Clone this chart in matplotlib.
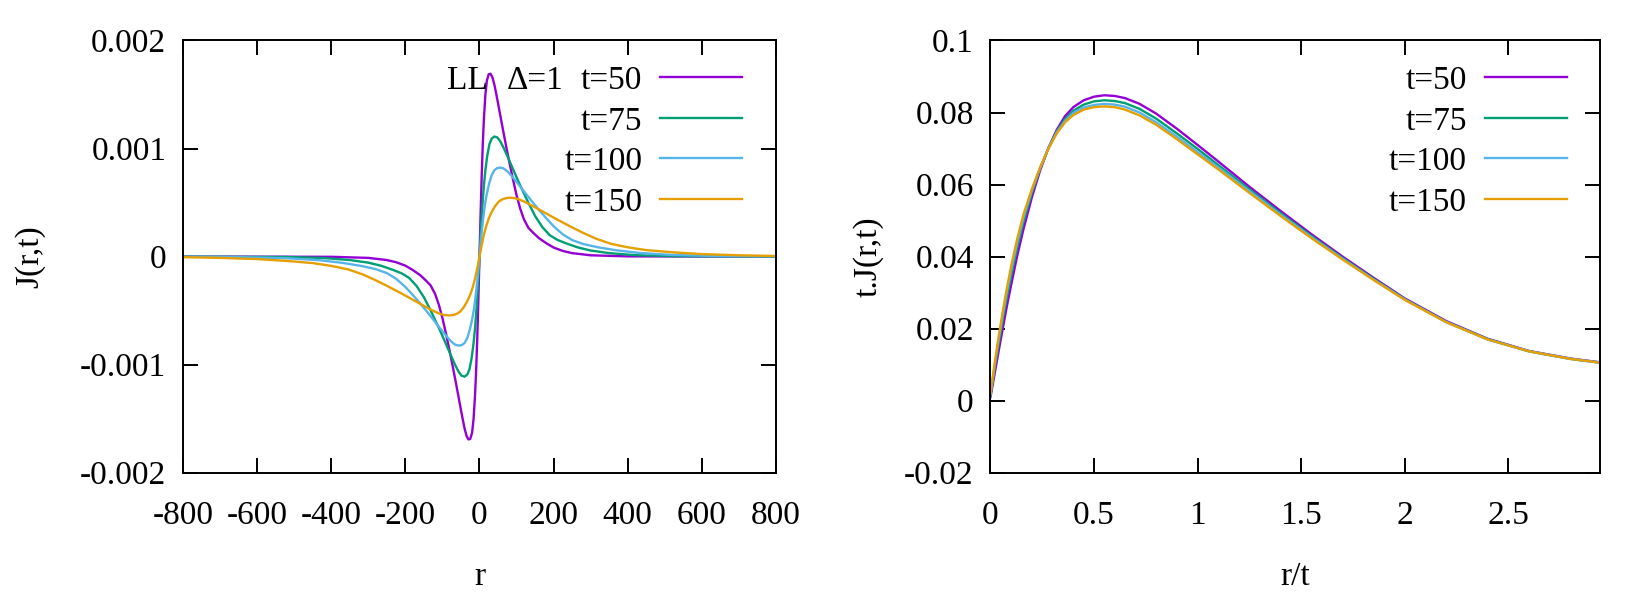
import numpy as np
import matplotlib
matplotlib.use("Agg")
from matplotlib import pyplot as plt

plt.rcParams['font.family'] = ['Liberation Serif', 'DejaVu Serif']
plt.rcParams['axes.unicode_minus'] = False
plt.rcParams['font.size'] = 24

# colours used by gnuplot for the four times
colors = ['#9400D3', '#009E73', '#56B4E9', '#E69F00']
labels = ['t=50', 't=75', 't=100', 't=150']

# left panel: J(r,t) for r >= 0 (the profile is odd in r)
r_t50 = [0, 3, 6, 9, 12, 16, 20, 25, 30, 35, 40, 45, 50, 57, 64, 72, 80, 90,
         100, 110, 120, 132, 145, 160, 180, 200, 225, 250, 300, 400, 800]
J_t50 = [0, 0.00039, 0.000756, 0.00105, 0.00128, 0.001504, 0.00163, 0.001688,
         0.001692, 0.001658, 0.001594, 0.00151, 0.00142, 0.00129, 0.001162,
         0.00102, 0.000882, 0.00072, 0.000568, 0.000442, 0.000344, 0.000266,
         0.00022, 0.000172, 0.000124, 0.000084, 0.000052, 0.000032, 0.000012,
         0.000002, 0]
r_t75 = [0, 4, 8, 12, 16, 21, 27, 33, 40, 48, 56, 65, 75, 85, 95, 105, 118,
         132, 150, 170, 190, 210, 235, 265, 300, 350, 420, 520, 800]
J_t75 = [0, 0.00026, 0.00048, 0.000664, 0.000801, 0.000935, 0.001043, 0.001092,
         0.001111, 0.001103, 0.001068, 0.001008, 0.000932, 0.000853, 0.000773,
         0.000695, 0.000599, 0.000497, 0.000376, 0.000271, 0.000197, 0.000155,
         0.000121, 0.0000853, 0.000056, 0.000032, 0.0000133, 0.000004, 0]
r_t100 = [0, 5, 10, 15, 20, 26, 33, 40, 48, 56, 65, 75, 85, 95, 110, 125, 140,
          160, 180, 200, 225, 250, 280, 320, 370, 430, 520, 650, 800]
J_t100 = [0, 0.000195, 0.000355, 0.00049, 0.000584, 0.000675, 0.000754, 0.000799,
          0.000819, 0.000824, 0.000816, 0.00079, 0.000753, 0.000712, 0.000648,
          0.000582, 0.000517, 0.000434, 0.000355, 0.000281, 0.000205, 0.000153,
          0.000116, 0.000086, 0.000058, 0.000034, 0.000015, 0.000005, 0.0000015]
r_t150 = [0, 6, 12, 18, 25, 33, 42, 52, 62, 72, 82, 95, 110, 125, 142, 160, 180,
          200, 225, 250, 280, 315, 355, 400, 450, 520, 600, 700, 800]
J_t150 = [0, 0.00011, 0.000203, 0.000281, 0.000353, 0.000413, 0.000467, 0.000509,
          0.000531, 0.000541, 0.000545, 0.000541, 0.000525, 0.000502, 0.000471,
          0.000437, 0.000399, 0.000361, 0.000315, 0.00027, 0.000219, 0.000165,
          0.000118, 0.000086, 0.00006, 0.00004, 0.000023, 0.000012, 0.0000053]

# right panel: t.J(r,t) against r/t
x_scaled = [0, 0.02, 0.04, 0.06, 0.08, 0.1, 0.13, 0.16, 0.2, 0.24, 0.28, 0.32,
            0.36, 0.4, 0.45, 0.5, 0.55, 0.6, 0.65, 0.72, 0.8, 0.9, 1.0, 1.1, 1.25,
            1.4, 1.55, 1.7, 1.85, 2.0, 2.2, 2.4, 2.6, 2.8, 2.95]
tJ_t50 = [0.001, 0.0075, 0.014, 0.0203, 0.0265, 0.0322, 0.0405, 0.0478, 0.0565,
          0.064, 0.0702, 0.0752, 0.079, 0.0815, 0.0834, 0.0844, 0.0848, 0.0846,
          0.084, 0.0824, 0.0797, 0.0755, 0.071, 0.0664, 0.0594, 0.0527, 0.0462,
          0.04, 0.0341, 0.0284, 0.0221, 0.0172, 0.0138, 0.0117, 0.0106]
tJ_t75 = [0.0015, 0.009, 0.016, 0.0228, 0.029, 0.0348, 0.0428, 0.0498, 0.0578,
          0.0645, 0.0701, 0.0748, 0.0782, 0.0805, 0.0822, 0.0831, 0.0834, 0.0832,
          0.0826, 0.081, 0.0783, 0.0742, 0.0699, 0.0654, 0.0587, 0.0521, 0.0457,
          0.0396, 0.0338, 0.0282, 0.0219, 0.0171, 0.0137, 0.0116, 0.0105]
tJ_t100 = [0.0018, 0.0097, 0.0172, 0.0241, 0.0305, 0.0363, 0.0442, 0.051, 0.0584,
           0.0647, 0.0701, 0.0745, 0.0777, 0.0799, 0.0814, 0.0821, 0.0824, 0.0822,
           0.0816, 0.08, 0.0773, 0.0733, 0.069, 0.0648, 0.0582, 0.0517, 0.0454,
           0.0394, 0.0336, 0.0281, 0.0218, 0.017, 0.0137, 0.0116, 0.0105]
tJ_t150 = [0.002, 0.0103, 0.018, 0.025, 0.0315, 0.0374, 0.0452, 0.0518, 0.0588,
           0.0648, 0.07, 0.0742, 0.0773, 0.0793, 0.0808, 0.0815, 0.0817, 0.0815,
           0.0808, 0.0792, 0.0766, 0.0726, 0.0684, 0.0642, 0.0577, 0.0513, 0.0451,
           0.0392, 0.0335, 0.028, 0.0218, 0.017, 0.0137, 0.0116, 0.0105]

left_xticks = [-800, -600, -400, -200, 0, 200, 400, 600, 800]
left_yticks = [-0.002, -0.001, 0, 0.001, 0.002]
left_yticklabels = ['-0.002', '-0.001', '0', '0.001', '0.002']
right_xticks = [0, 0.5, 1, 1.5, 2, 2.5]
right_xticklabels = ['0', '0.5', '1', '1.5', '2', '2.5']
right_yticks = [-0.02, 0, 0.02, 0.04, 0.06, 0.08, 0.1]
right_yticklabels = ['-0.02', '0', '0.02', '0.04', '0.06', '0.08', '0.1']


def style(ax):
    for s in ax.spines.values():
        s.set_linewidth(1.4)
    ax.tick_params(direction='in', length=11, width=1.4, top=True, right=True,
                   labelsize=24)
    ax.tick_params(axis='x', pad=20)
    ax.tick_params(axis='y', pad=12)


fig = plt.figure(figsize=(16.5, 6), dpi=100)
ax1 = fig.add_axes([0.1109, 0.2122, 0.3594, 0.7203])
ax2 = fig.add_axes([0.6003, 0.2122, 0.3694, 0.7203])

for r, J, c, lab in zip([r_t50, r_t75, r_t100, r_t150],
                        [J_t50, J_t75, J_t100, J_t150], colors, labels):
    r = np.array(r)
    J = np.array(J)
    r_full = np.concatenate([-r[:0:-1], r])
    J_full = np.concatenate([-J[:0:-1], J])
    ax1.plot(r_full, J_full, color=c, lw=1.7, label=lab)

for tJ, c, lab in zip([tJ_t50, tJ_t75, tJ_t100, tJ_t150], colors, labels):
    ax2.plot(x_scaled, tJ, color=c, lw=1.7, label=lab)

ax1.set_xlim(-800, 800)
ax1.set_ylim(-0.002, 0.002)
ax1.set_xticks(left_xticks)
ax1.set_xticklabels([str(v) for v in left_xticks])
ax1.set_yticks(left_yticks)
ax1.set_yticklabels(left_yticklabels)
ax1.set_xlabel('r')
ax1.set_ylabel('J(r,t)')
ax1.xaxis.set_label_coords(0.5, -0.241)
ax1.xaxis.label.set_va('center')
ax1.yaxis.set_label_coords(-0.258, 0.5)
ax1.yaxis.label.set_va('center')

ax2.set_xlim(0, 2.943)
ax2.set_ylim(-0.02, 0.1)
ax2.set_xticks(right_xticks)
ax2.set_xticklabels(right_xticklabels)
ax2.set_yticks(right_yticks)
ax2.set_yticklabels(right_yticklabels)
ax2.set_xlabel('r/t')
ax2.set_ylabel('t.J(r,t)')
ax2.xaxis.set_label_coords(0.5, -0.241)
ax2.xaxis.label.set_va('center')
ax2.yaxis.set_label_coords(-0.201, 0.5)
ax2.yaxis.label.set_va('center')

style(ax1)
style(ax2)
ax1.legend(loc='upper right', bbox_to_anchor=(0.943, 0.942), frameon=False,
           markerfirst=False, handlelength=2.46, handletextpad=0.54,
           labelspacing=0.3, borderaxespad=0.0, borderpad=0.0, fontsize=24)
ax2.legend(loc='upper right', bbox_to_anchor=(0.946, 0.942), frameon=False,
           markerfirst=False, handlelength=2.46, handletextpad=0.54,
           labelspacing=0.3, borderaxespad=0.0, borderpad=0.0, fontsize=24)

# key title of the left panel, written in two pieces as gnuplot spaces them
ax1.text(0.514, 0.907, 'LL', transform=ax1.transAxes,
         ha='right', va='center', fontsize=24)
ax1.text(0.641, 0.907, '\u0394=1', transform=ax1.transAxes,
         ha='right', va='center', fontsize=24)

plt.savefig('out.png', dpi=100)
